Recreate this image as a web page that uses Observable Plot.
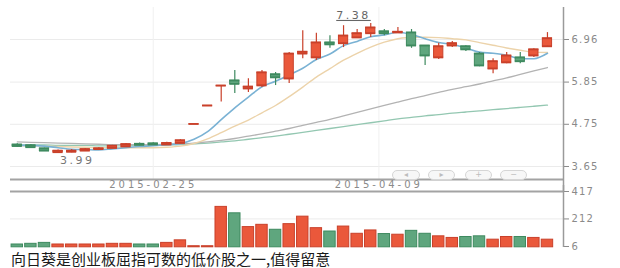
<!DOCTYPE html>
<html><head><meta charset="utf-8">
<script src="https://cdn.jsdelivr.net/npm/d3@7"></script>
<script src="https://cdn.jsdelivr.net/npm/@observablehq/plot@0.6"></script>
<style>
html,body{margin:0;padding:0;background:#fff;}
#wrap{position:relative;width:620px;height:268px;overflow:hidden;background:#fff;}
#price{position:absolute;left:0;top:0;}
#vol{position:absolute;left:0;top:185px;}
#cap{position:absolute;left:11px;top:249px;font:15px "Noto Sans CJK SC",sans-serif;line-height:19px;color:#1a1a1a;white-space:nowrap;}
.btn{position:absolute;top:170px;height:8px;border:1px solid #d6d6d6;border-radius:5px;background:#f7f7f7;color:#bdbdbd;font:8px "DejaVu Sans",sans-serif;line-height:8px;text-align:center;}
g[aria-label="y-axis tick label"] text{letter-spacing:1.2px;}
g[aria-label="x-axis tick label"] text{letter-spacing:3px;}
</style></head><body>
<div id="wrap">
  <div id="price"></div>
  <div id="vol"></div>
  <div class="btn" style="left:392px;width:26px;">◂</div>
  <div class="btn" style="left:428px;width:25px;">▸</div>
  <div class="btn" style="left:465px;width:25px;">+</div>
  <div class="btn" style="left:500px;width:25px;">−</div>
  <div id="cap"></div>
</div>
<script>
// ---- data ----
const caption = "向日葵是创业板屈指可数的低价股之一,值得留意";
const open  = [4.22,4.20,4.12,4.02,4.03,4.06,4.10,4.13,4.17,4.24,4.25,4.22,4.26,4.76,5.24,5.76,5.89,5.68,5.76,6.05,5.94,6.59,6.49,6.88,6.86,7.01,7.12,7.17,7.14,7.14,6.80,6.49,6.80,6.78,6.59,6.20,6.36,6.49,6.54,6.78];
const high  = [4.24,4.22,4.13,4.08,4.09,4.12,4.14,4.20,4.25,4.26,4.27,4.28,4.35,4.76,5.24,5.76,6.15,5.94,6.15,6.10,6.62,7.19,7.12,7.06,7.32,7.22,7.38,7.22,7.27,7.22,6.80,6.86,6.91,6.80,6.62,6.46,6.62,6.62,6.72,7.14];
const low   = [4.15,4.13,4.04,3.99,4.01,4.04,4.08,4.12,4.15,4.19,4.20,4.21,4.25,4.76,5.24,5.33,5.55,5.58,5.71,5.76,5.81,6.46,6.41,6.73,6.75,6.99,7.01,7.06,7.12,6.73,6.28,6.44,6.75,6.65,6.25,6.07,6.33,6.33,6.49,6.78];
const close = [4.18,4.15,4.06,4.06,4.06,4.10,4.12,4.19,4.23,4.21,4.22,4.26,4.33,4.76,5.24,5.76,5.80,5.73,6.10,5.97,6.59,6.64,6.88,6.83,7.06,7.12,7.27,7.12,7.16,6.80,6.54,6.78,6.86,6.70,6.28,6.39,6.54,6.39,6.70,6.99];
const volume = [21,26,33,21,21,21,21,26,26,21,21,33,52,8,8,302,254,151,168,131,173,229,143,118,155,101,126,99,94,123,101,82,70,77,82,57,77,77,70,57];
const maBlue  = [4.20,4.20,4.18,4.14,4.10,4.09,4.08,4.11,4.14,4.17,4.19,4.22,4.25,4.36,4.56,4.87,5.18,5.46,5.73,5.87,6.04,6.21,6.44,6.58,6.80,6.91,7.03,7.08,7.15,7.09,6.98,6.88,6.83,6.74,6.63,6.60,6.55,6.46,6.46,6.60];
const maTan   = [4.19,4.19,4.18,4.17,4.16,4.15,4.14,4.14,4.14,4.14,4.14,4.15,4.18,4.25,4.37,4.53,4.70,4.86,5.05,5.24,5.47,5.72,5.98,6.20,6.42,6.60,6.76,6.89,6.98,7.02,7.02,7.01,6.98,6.95,6.88,6.81,6.74,6.68,6.63,6.62];
const maGray  = [4.29,4.28,4.27,4.26,4.25,4.24,4.23,4.22,4.22,4.22,4.22,4.23,4.24,4.26,4.29,4.33,4.38,4.44,4.50,4.57,4.64,4.72,4.80,4.88,4.97,5.06,5.15,5.24,5.33,5.42,5.50,5.58,5.66,5.73,5.80,5.88,5.96,6.05,6.14,6.23];
const maGreen = [4.22,4.21,4.21,4.20,4.20,4.20,4.19,4.19,4.19,4.20,4.20,4.21,4.22,4.24,4.26,4.29,4.32,4.36,4.40,4.44,4.49,4.54,4.59,4.64,4.69,4.74,4.79,4.84,4.89,4.93,4.97,5.00,5.04,5.07,5.10,5.13,5.16,5.19,5.22,5.25];
const priceTicks = [3.65, 4.75, 5.85, 6.96];
const volTicks = [6, 212, 417];
const dateTickIdx = [10, 26.6];
const dateTickLabels = ["2015-02-25", "2015-04-09"];
const priceDomain = [3.311, 7.794];
const volDomain = [-1.5, 417];
const xDomain = [-0.5, 40.18];

// ---- styles ----
const RED = "#ea583b", RED_S = "#c9402a", GREEN = "#5fa67e", GREEN_S = "#3e8a5f";

const candles = open.map((o, i) => ({i, o, h: high[i], l: low[i], c: close[i], v: volume[i], up: close[i] >= o}));
const col = d => d.up ? RED_S : GREEN_S;
const fil = d => d.up ? RED : GREEN;
const maSeries = (arr) => arr.map((v, i) => ({i, v}));
const hiIdx = d3.maxIndex(high), loIdx = d3.minIndex(low);
const hiText = high[hiIdx].toFixed(2), loText = low[loIdx].toFixed(2);

const font = {fontFamily: "DejaVu Sans, sans-serif", fontSize: "10px", background: "transparent", overflow: "visible"};

const price = Plot.plot({
  width: 620, height: 191, marginLeft: 10, marginRight: 57, marginTop: 7, marginBottom: 12,
  style: font,
  x: {domain: xDomain},
  y: {domain: priceDomain},
  marks: [
    Plot.ruleY(priceTicks, {stroke: "#ebebeb"}),
    Plot.ruleX(dateTickIdx, {stroke: "#f0f0f0"}),
    Plot.line(maSeries(maGreen), {x: "i", y: "v", stroke: "#93c7b1", strokeWidth: 1.3, curve: "monotone-x"}),
    Plot.line(maSeries(maGray), {x: "i", y: "v", stroke: "#b3b3b3", strokeWidth: 1.3, curve: "monotone-x"}),
    Plot.line(maSeries(maTan), {x: "i", y: "v", stroke: "#ecd3aa", strokeWidth: 1.4, curve: "monotone-x"}),
    Plot.line(maSeries(maBlue), {x: "i", y: "v", stroke: "#7ab2d4", strokeWidth: 1.6, curve: "monotone-x"}),
    Plot.ruleX(candles, {x: "i", y1: "l", y2: "h", stroke: col, strokeWidth: 1.2}),
    Plot.rect(candles, {x1: d => d.i - 0.34, x2: d => d.i + 0.34, y1: "o", y2: "c", fill: fil, stroke: col, strokeWidth: 1}),
    Plot.ruleY(candles, {y: "o", x1: d => d.i - 0.37, x2: d => d.i + 0.37, stroke: col, strokeWidth: 1.6}),
    Plot.ruleY(candles, {y: "c", x1: d => d.i - 0.37, x2: d => d.i + 0.37, stroke: col, strokeWidth: 1.6}),
    Plot.text([candles[hiIdx]], {x: "i", y: "h", text: () => hiText, textAnchor: "end", dy: -8, fill: "#666", fontSize: 11}),
    Plot.text([candles[loIdx]], {x: "i", y: "l", text: () => loText, textAnchor: "start", dx: 2, dy: 7, fill: "#777", fontSize: 11}),
    Plot.ruleY([priceDomain[0]], {stroke: "#a3a3a3", strokeWidth: 2}),
    Plot.axisY({anchor: "right", ticks: priceTicks, tickFormat: d => d.toFixed(2), tickSize: 5, tickPadding: 3, color: "#8a8a8a", label: null}),
    Plot.axisX({ticks: dateTickIdx, tickFormat: (d, k) => dateTickLabels[k], tickSize: 0, tickPadding: 1, color: "#8a8a8a", label: null}),
    Plot.ruleX([xDomain[1]], {stroke: "#9a9a9a", strokeWidth: 1.5, insetBottom: -12})
  ]
});
// style the extreme-value annotations
price.querySelectorAll("text").forEach(t => {
  if (t.textContent === hiText) { t.style.textDecoration = "underline"; t.style.letterSpacing = "2.5px"; }
  if (t.textContent === loText) { t.style.letterSpacing = "2.5px"; }
});
document.getElementById("price").append(price);

const vol = Plot.plot({
  width: 620, height: 64, marginLeft: 10, marginRight: 57, marginTop: 6, marginBottom: 2,
  style: font,
  x: {domain: xDomain, axis: null},
  y: {domain: volDomain},
  marks: [
    Plot.ruleY([volTicks[1]], {stroke: "#ebebeb"}),
    Plot.rect(candles, {x1: d => d.i - 0.42, x2: d => d.i + 0.42, y1: 0, y2: "v", fill: fil, stroke: col, strokeWidth: 1}),
    Plot.ruleY([volDomain[1]], {stroke: "#a3a3a3", strokeWidth: 2}),
    Plot.axisY({anchor: "right", ticks: volTicks, tickFormat: d => String(d), tickSize: 5, tickPadding: 3, color: "#8a8a8a", label: null}),
    Plot.ruleX([xDomain[1]], {stroke: "#9a9a9a", strokeWidth: 1.5, insetTop: -6})
  ]
});
document.getElementById("vol").append(vol);
document.getElementById("cap").textContent = caption;
</script>
</body></html>
